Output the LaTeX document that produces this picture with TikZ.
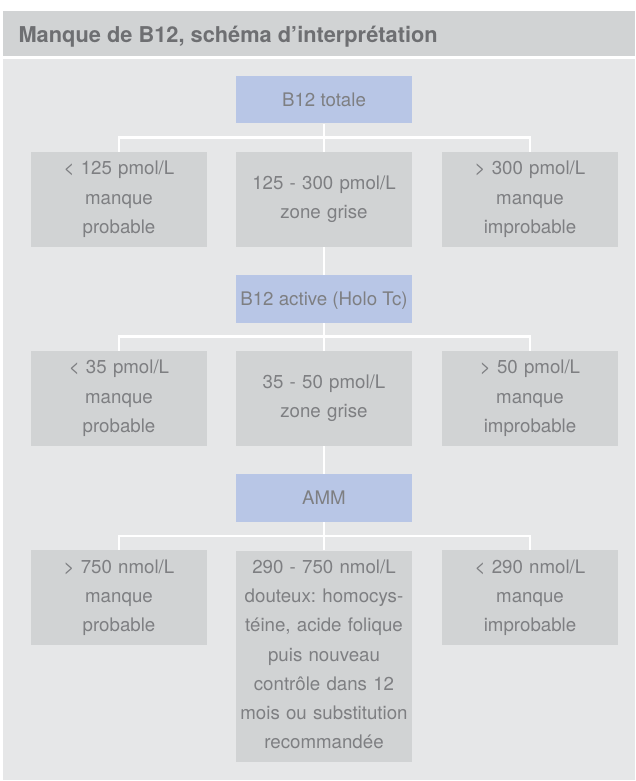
\documentclass[tikz,border=0pt]{standalone}
\usepackage{fontspec}
\setmainfont{TeX Gyre Heros}
\definecolor{panelgrey}{RGB}{230,231,232}
\definecolor{boxgrey}{RGB}{209,211,212}
\definecolor{boxblue}{RGB}{184,198,230}
\definecolor{txtgrey}{RGB}{126,127,130}
\definecolor{headtxt}{RGB}{110,111,114}
\pgfdeclarelayer{bg}
\pgfdeclarelayer{lines}
\pgfsetlayers{bg,lines,main}
\tikzset{
  boxtext/.style={font=\frenchspacing\fontsize{18.7}{29.3}\selectfont, text=txtgrey},
  bluebox/.style={boxtext, fill=boxblue, minimum width=176pt, minimum height=47.5pt,
    inner sep=0pt, text height=13.4pt, text depth=0pt},
  greybox/.style={boxtext, fill=boxgrey, minimum width=176pt, minimum height=94.5pt,
    inner sep=0pt, text width=172pt, align=center},
  conn/.style={draw=white, line width=2.5pt}
}
\begin{document}
\begin{tikzpicture}[x=1pt,y=-1pt]
\useasboundingbox (0,0) rectangle (635,781);
% nodes
\node[bluebox] (t1) at (324,99.7) {B12 totale};
\node[greybox] (r1a) at (119,199.5) {< 125 pmol/L\\manque\\probable};
\node[greybox] (r1b) at (324,199.5) {125 - 300 pmol/L\\zone grise};
\node[greybox] (r1c) at (530,199.5) {> 300 pmol/L\\manque\\improbable};
\node[bluebox] (t2) at (324,298.9) {B12 active (Holo Tc)};
\node[greybox] (r2a) at (119,398.5) {< 35 pmol/L\\manque\\probable};
\node[greybox] (r2b) at (324,398.5) {35 - 50 pmol/L\\zone grise};
\node[greybox] (r2c) at (530,398.5) {> 50 pmol/L\\manque\\improbable};
\node[bluebox] (t3) at (324,498) {AMM};
\node[greybox] (r3a) at (119,597.7) {> 750 nmol/L\\manque\\probable};
\node[greybox, minimum height=211.5pt] (r3b) at (324,656.3) {290 - 750 nmol/L\\douteux: homocys-\\téine, acide folique\\puis nouveau\\contrôle dans 12\\mois ou substitution\\recommandée\vphantom{p}};
\node[greybox] (r3c) at (530,597.7) {< 290 nmol/L\\manque\\improbable};
% background
\begin{pgfonlayer}{bg}
  \fill[panelgrey] (3,58.7) rectangle (635,780);
  \fill[boxgrey] (3,11) rectangle (635,55.7);
\end{pgfonlayer}
\node[anchor=base west, inner sep=0pt, font=\bfseries\fontsize{21.8}{26}\selectfont, text=headtxt] (title) at (18.3,42.3) {Manque de B12, schéma d’interprétation};
% connectors
\begin{pgfonlayer}{lines}
  \draw[conn] (t1.south) -- (r1b.north);
  \draw[conn] (r1a.north) -- ++(0,-14.5) -| (r1c.north);
  \draw[conn] (r1b.south) -- (t2.north);
  \draw[conn] (t2.south) -- (r2b.north);
  \draw[conn] (r2a.north) -- ++(0,-14.5) -| (r2c.north);
  \draw[conn] (r2b.south) -- (t3.north);
  \draw[conn] (t3.south) -- (r3b.north);
  \draw[conn] (r3a.north) -- ++(0,-14.5) -| (r3c.north);
\end{pgfonlayer}
\end{tikzpicture}
\end{document}
